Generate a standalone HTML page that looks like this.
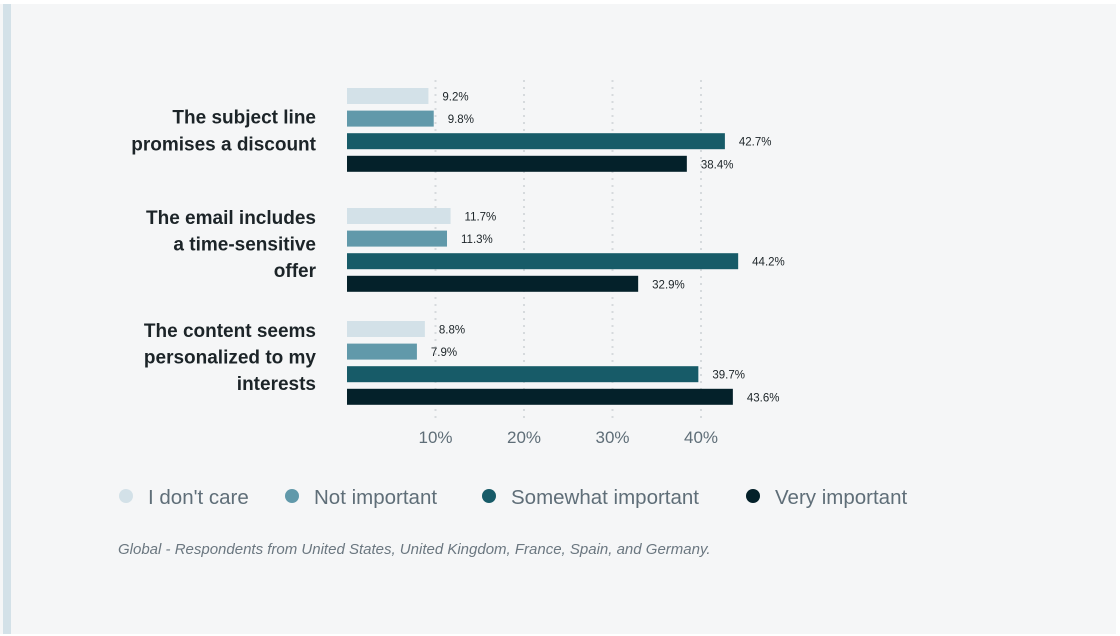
<!DOCTYPE html>
<html><head><meta charset="utf-8"><style>
body{margin:0;width:1120px;height:636px;background:#fff;font-family:"Liberation Sans",sans-serif;overflow:hidden}
#card{position:absolute;left:0;top:4px;width:1116px;height:630px;background:#f5f6f7}
#strip{position:absolute;left:3px;top:4px;width:8px;height:630px;background:#d3e1e8}
</style></head><body>
<div id="card"></div>
<div id="strip"></div>
<svg id="chart" width="1120" height="636" style="position:absolute;left:0;top:0"></svg>
<script>
const categories=[["The subject line","promises a discount"],["The email includes","a time-sensitive","offer"],["The content seems","personalized to my","interests"]];
const seriesNames=["I don't care","Not important","Somewhat important","Very important"];
const dontCare=[9.2,11.7,8.8];
const notImportant=[9.8,11.3,7.9];
const somewhat=[42.7,44.2,39.7];
const veryImportant=[38.4,32.9,43.6];
const ticks=[10,20,30,40];
const colors=["#d3e1e8","#6199aa","#175b68","#04212a"];
const series=[dontCare,notImportant,somewhat,veryImportant];
const NS="http://www.w3.org/2000/svg";
const svg=document.getElementById('chart');
const x0=347,pxPer=8.85;
const xs=v=>x0+v*pxPer;
const groupTop=i=>88+i*116.5+(i==1?3.5:0);
function mk(t,a,txt){const e=document.createElementNS(NS,t);for(const k in a)e.setAttribute(k,a[k]);if(txt!=null)e.textContent=txt;svg.appendChild(e);return e;}
ticks.forEach(t=>{
 const l=mk('line',{x1:xs(t),x2:xs(t),y1:80,y2:418,stroke:'#d6dadd','stroke-width':2,'stroke-dasharray':'2,5'});
 
 
 const tx=mk('text',{x:xs(t),y:443,'text-anchor':'middle','font-size':17,fill:'#5f6e78'},t+'%');
 
 
});
categories.forEach((lines,i)=>{
 const top=groupTop(i);const c=top+(lines.length==2?42.5:36);
 lines.forEach((ln,j)=>{
  const y=c+(j-(lines.length-1)/2)*26.7+6.5;
  const t=mk('text',{x:316,y:y,'text-anchor':'end','font-size':19,'font-weight':'bold',fill:'#1c2428'},ln);
  
  
 });
 series.forEach((s,k)=>{
  const y=top+k*22.6;
  const r=mk('rect',{x:x0,y:y,width:xs(s[i])-x0,height:16,fill:colors[k]});
  
  
  const v=mk('text',{x:xs(s[i])+14,y:y+12.5,'font-size':11.5,fill:'#1c2428'},s[i].toFixed(1)+'%');
  
  
 });
});
const legX=[126,292,489,753];
seriesNames.forEach((n,k)=>{
 const c=mk('circle',{cx:legX[k],cy:496,r:7,fill:colors[k]});
 
 
 const t=mk('text',{x:legX[k]+22,y:504,'font-size':20.5,fill:'#5f6e78'},n);
 
 
});
const f=mk('text',{x:118,y:554,'font-size':15,'font-style':'italic',fill:'#6b7780'},'Global - Respondents from United States, United Kingdom, France, Spain, and Germany.');


</script>
</body></html>
